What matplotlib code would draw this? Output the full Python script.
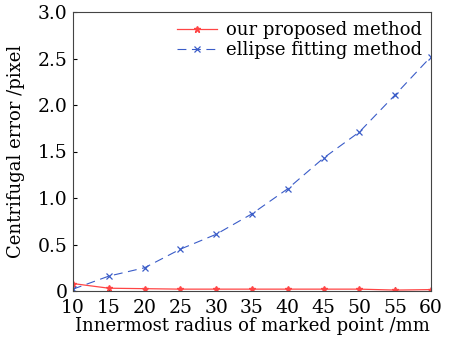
import matplotlib
matplotlib.use('Agg')
import matplotlib.pyplot as plt
from matplotlib.ticker import FuncFormatter

radius = [10, 15, 20, 25, 30, 35, 40, 45, 50, 55, 60]
proposed = [0.08, 0.03, 0.025, 0.02, 0.02, 0.02, 0.02, 0.02, 0.02, 0.01, 0.015]
ellipse = [0.02, 0.16, 0.25, 0.45, 0.61, 0.83, 1.10, 1.43, 1.71, 2.11, 2.52]

plt.rcParams['font.family'] = 'DejaVu Serif'

fig = plt.figure(figsize=(4.54, 3.45), dpi=100)
ax = fig.add_axes([73 / 454, 54 / 345, 358 / 454, 279 / 345])

ax.plot(radius, proposed, color='#ff4545', lw=0.9, marker='*', markersize=5,
        label='our proposed method')
ax.plot(radius, ellipse, color='#3a5cc8', lw=0.8, ls=(0, (8, 5)), marker='x',
        markersize=4, markeredgewidth=0.9, label='ellipse fitting method')

ax.set_xlim(10, 60)
ax.set_ylim(0, 3.0)
ax.set_xticks(radius)
ax.set_yticks([0, 0.5, 1.0, 1.5, 2.0, 2.5, 3.0])
ax.yaxis.set_major_formatter(FuncFormatter(lambda v, p: '0' if v == 0 else f'{v:.1f}'))
ax.tick_params(direction='in', labelsize=13.5, length=3)
ax.tick_params(axis='x', pad=6)
ax.tick_params(axis='y', pad=4)
for s in ax.spines.values():
    s.set_linewidth(0.8)
    s.set_color('#444444')

ax.set_xlabel('Innermost radius of marked point /mm', fontsize=13, labelpad=0)
ax.set_ylabel('Centrifugal error /pixel', fontsize=13)
ax.yaxis.set_label_coords(-0.135, 0.5)
ax.legend(loc='upper right', frameon=False, fontsize=13, handlelength=2.2,
          borderaxespad=0.1, labelspacing=0.1, handletextpad=0.5)

fig.savefig('out.png', dpi=100)
